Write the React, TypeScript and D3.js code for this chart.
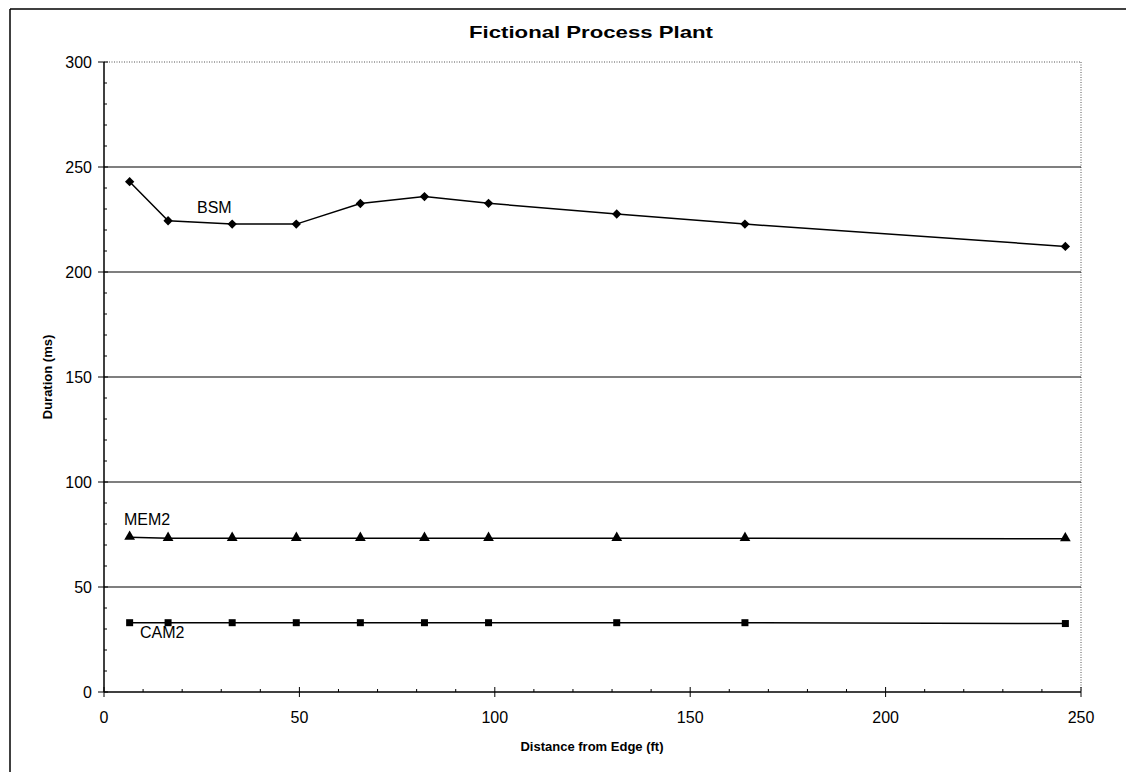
import React from "react";
import * as d3 from "d3";

// Measurement stations (ft from edge)
const distances = [6.56, 16.4, 32.8, 49.2, 65.6, 82, 98.4, 131.2, 164, 246];
const bsm = [243, 224.4, 222.8, 222.8, 232.6, 235.9, 232.7, 227.6, 222.8, 212.2];
const mem2 = [73.7, 73.2, 73.2, 73.2, 73.2, 73.2, 73.2, 73.2, 73.2, 73];
const cam2 = [33, 33, 33, 33, 33, 33, 33, 33, 33, 32.6];

const xTicks = [0, 50, 100, 150, 200, 250];
const yTicks = [0, 50, 100, 150, 200, 250, 300];

const title = "Fictional Process Plant";
const xTitle = "Distance from Edge (ft)";
const yTitle = "Duration (ms)";

const W = 1126;
const H = 772;
const left = 104;
const right = 1081;
const top = 62;
const bottom = 692;

export default function App() {
  const x = d3.scaleLinear().domain([0, 250]).range([left, right]);
  const y = d3.scaleLinear().domain([0, 300]).range([bottom, top]);
  const line = d3
    .line<number>()
    .x((_, i) => x(distances[i]))
    .y((v) => y(v));

  const minorX = d3.range(0, 251, 10).filter((v) => v % 50 !== 0);
  const minorY = d3.range(0, 301, 10).filter((v) => v % 50 !== 0);

  const font = "'Liberation Sans', Arial, sans-serif";
  const triangle = d3.symbol(d3.symbolTriangle, 50)()!;

  return (
    <svg
      width={W}
      height={H}
      style={{ position: "absolute", left: 0, top: 0, background: "#fff" }}
      fontFamily={font}
    >
      {/* chart frame */}
      <line x1={10} y1={9} x2={W} y2={9} stroke="#000" strokeWidth={1.5} />
      <line x1={10} y1={9} x2={10} y2={H} stroke="#000" strokeWidth={1.5} />

      <text
        x={591}
        y={38}
        textAnchor="middle"
        fontSize={17}
        fontWeight="bold"
        textLength={244}
        lengthAdjust="spacingAndGlyphs"
      >
        {title}
      </text>

      {/* plot area border */}
      <line x1={left} y1={top} x2={right} y2={top} stroke="#555" strokeDasharray="1,1.5" />
      <line x1={right} y1={top} x2={right} y2={bottom} stroke="#555" strokeDasharray="1,1.5" />

      {/* gridlines */}
      {yTicks
        .filter((t) => t > 0 && t < 300)
        .map((t) => (
          <line key={"g" + t} x1={left} x2={right} y1={y(t)} y2={y(t)} stroke="#000" strokeWidth={1.2} />
        ))}

      {/* y axis */}
      <line x1={left} x2={left} y1={top} y2={bottom} stroke="#000" strokeWidth={1.5} />
      {yTicks.map((t) => (
        <g key={"yt" + t}>
          <line x1={left - 6} x2={left + 4} y1={y(t)} y2={y(t)} stroke="#000" />
          <text x={92} y={y(t) + 6} textAnchor="end" fontSize={16}>
            {t}
          </text>
        </g>
      ))}
      {minorY.map((t) => (
        <line key={"ym" + t} x1={left} x2={left + 3} y1={y(t)} y2={y(t)} stroke="#000" />
      ))}

      {/* x axis */}
      <line x1={left} x2={right} y1={bottom} y2={bottom} stroke="#000" strokeWidth={1.5} />
      {xTicks.map((t) => (
        <g key={"xt" + t}>
          <line x1={x(t)} x2={x(t)} y1={bottom - 5} y2={bottom + 5} stroke="#000" />
          <text x={x(t)} y={723} textAnchor="middle" fontSize={16}>
            {t}
          </text>
        </g>
      ))}
      {minorX.map((t) => (
        <line key={"xm" + t} x1={x(t)} x2={x(t)} y1={bottom - 3} y2={bottom} stroke="#000" />
      ))}

      <text x={592} y={751} textAnchor="middle" fontSize={13} fontWeight="bold">
        {xTitle}
      </text>
      <text
        transform={`translate(52,${(top + bottom) / 2}) rotate(-90)`}
        textAnchor="middle"
        fontSize={13}
        fontWeight="bold"
      >
        {yTitle}
      </text>

      {/* series */}
      <path d={line(bsm)!} fill="none" stroke="#000" strokeWidth={1.5} />
      <path d={line(mem2)!} fill="none" stroke="#000" strokeWidth={1.5} />
      <path d={line(cam2)!} fill="none" stroke="#000" strokeWidth={1.5} />

      {bsm.map((v, i) => (
        <rect
          key={"b" + i}
          x={-3.3}
          y={-3.3}
          width={6.6}
          height={6.6}
          transform={`translate(${x(distances[i])},${y(v)}) rotate(45)`}
          fill="#000"
        />
      ))}
      {mem2.map((v, i) => (
        <path key={"m" + i} d={triangle} transform={`translate(${x(distances[i])},${y(v) - 0.5})`} fill="#000" />
      ))}
      {cam2.map((v, i) => (
        <rect key={"c" + i} x={x(distances[i]) - 3.5} y={y(v) - 3.5} width={7} height={7} fill="#000" />
      ))}

      {/* series labels */}
      <text x={197} y={213} fontSize={16}>BSM</text>
      <text x={124} y={525} fontSize={16}>MEM2</text>
      <text x={140} y={638} fontSize={16}>CAM2</text>
    </svg>
  );
}
